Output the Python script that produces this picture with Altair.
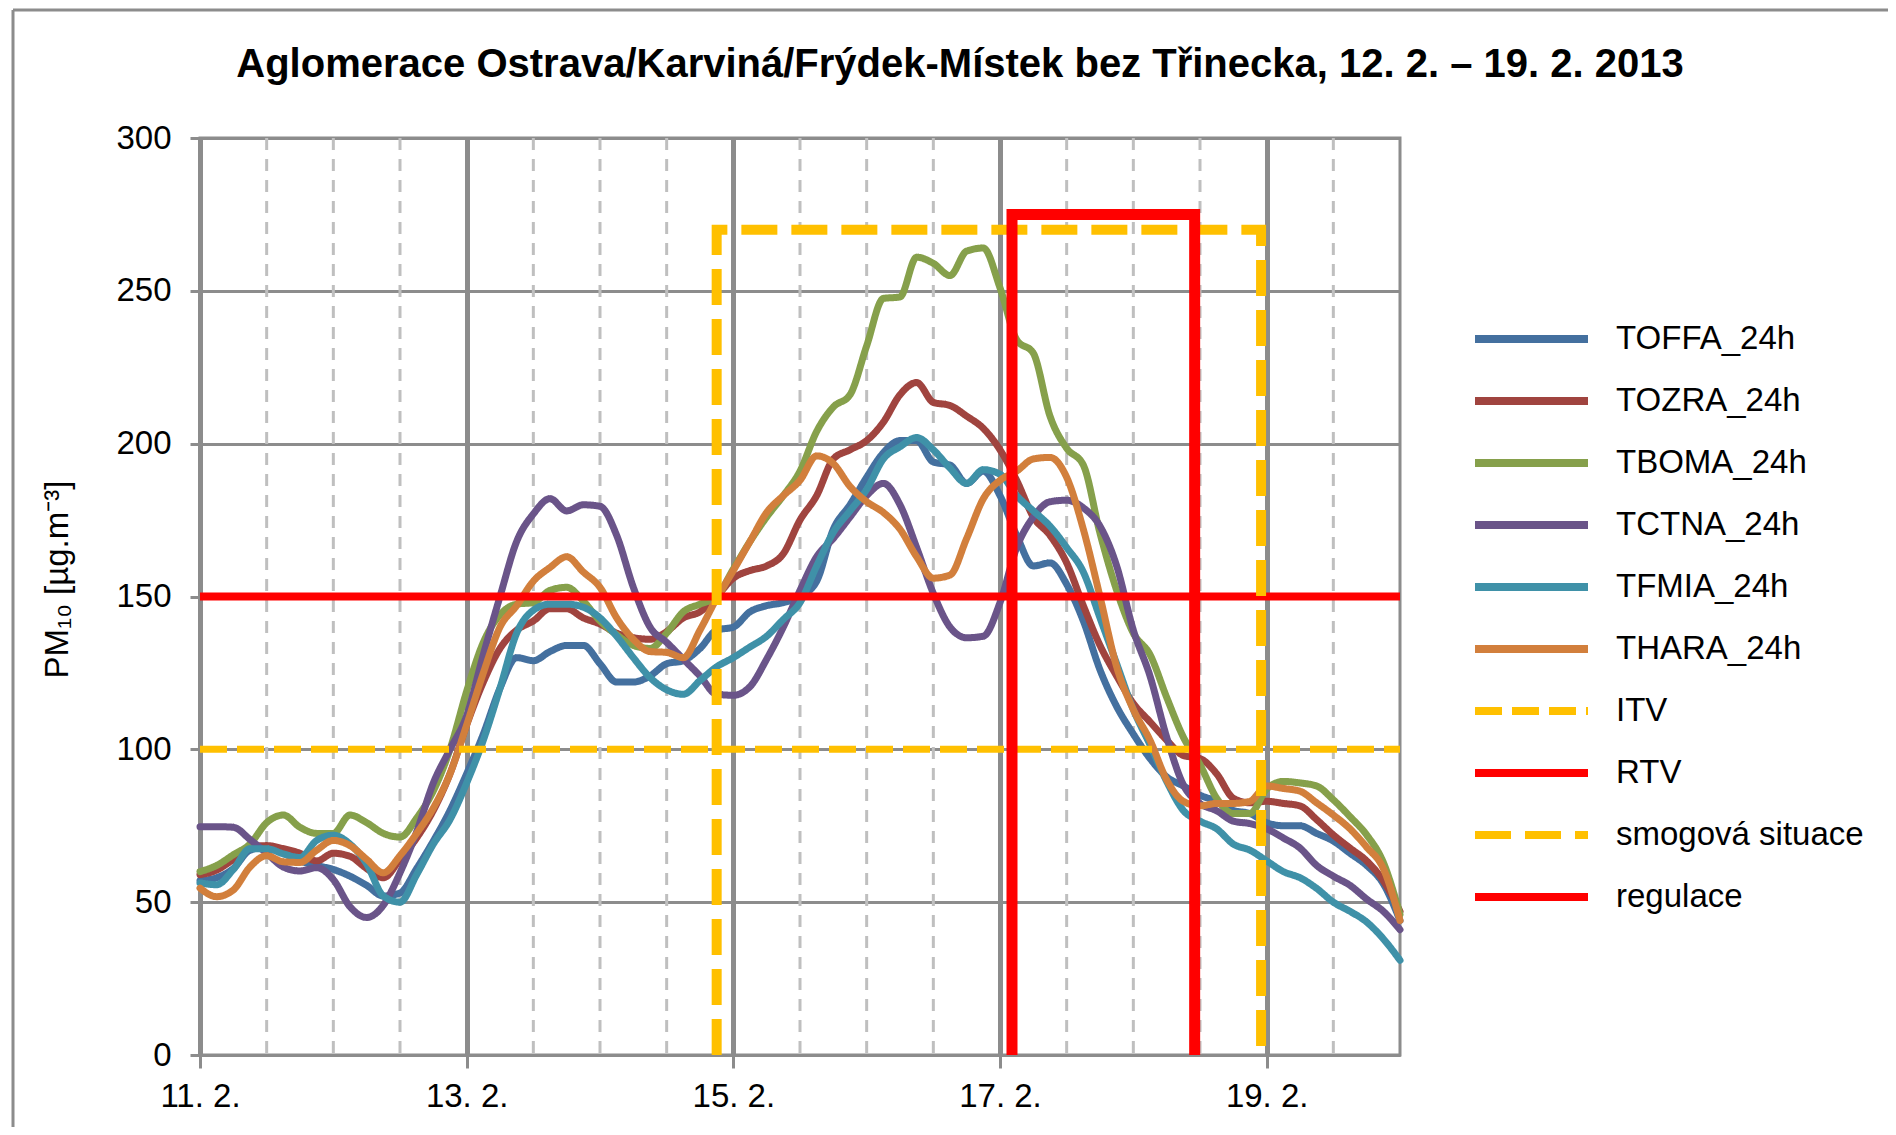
import altair as alt
import pandas as pd

# ---------------- data ----------------
HOURS = list(range(0, 217, 3))  # hours since 11. 2. 00:00

TOFFA = [57, 58, 61, 67, 68, 66, 63.5, 62, 60.7, 58.5, 55.5, 52, 53, 61, 70, 80,
         92, 105, 120, 130, 129, 132, 134, 134, 128, 122, 122, 124, 128, 129, 133, 139,
         140, 145, 147, 148, 150, 155, 172, 180, 189, 197, 201, 201, 194, 193, 187, 191,
         183, 170, 160, 161, 154, 142, 126, 114, 105, 97, 91, 88, 85, 83, 80, 79,
         76, 75, 75, 72.5, 70, 66, 62, 56, 44]
TOZRA = [59, 60.5, 64, 68, 68.5, 67.5, 66, 63.5, 66, 65, 61, 58, 64, 71, 80, 92,
         108, 122, 133, 139, 142, 146, 146, 143, 141, 138, 136.5, 136, 138.5, 143, 145, 150,
         156, 158.5, 160, 164, 175, 183, 195, 198, 201, 207, 216, 220, 213.5, 212.5, 209, 205,
         198, 188, 176, 170, 161, 147, 134, 124, 115, 109, 103, 98, 97, 92, 84, 82.5,
         83, 82.3, 81.5, 77, 72, 67.7, 63.5, 57, 47]
TBOMA = [60, 62, 65.5, 69, 76, 78.5, 74.5, 72.5, 72.5, 78.5, 76, 72.5, 71.3, 77.5, 86.4, 100,
         119, 135, 144, 147.5, 148, 152, 153, 148.5, 142, 137.5, 134, 133, 138, 145, 147.5, 150,
         159, 168, 176, 183, 191, 204, 212, 216, 232, 247.5, 248, 261, 259, 255, 263, 264,
         251, 234, 229.6, 209, 198.5, 193, 170.7, 152, 138, 131, 117, 104, 95, 84, 79,
         79, 87, 89.5, 89, 88, 83.5, 78, 72, 63, 46]
TCTNA = [74.7, 74.7, 74.5, 70.5, 66, 61.5, 60.2, 61.3, 57.4, 48.5, 45, 49, 59.6, 73, 89, 100,
         111, 131, 150, 168, 177, 182, 178, 180, 179.5, 170, 153, 140, 135, 129.5, 124, 118,
         117.7, 120.5, 129.5, 140, 152, 163, 169, 176, 183, 187, 180, 166, 151, 140, 136.5, 137,
         148, 166, 176, 181, 181.5, 179, 173, 160, 139, 124, 104, 88.4, 82.3, 79.9, 76.5,
         75.7, 74, 71, 67.7, 62, 58.5, 55.5, 51, 47, 41]
TFMIA = [56.3, 55.7, 60.7, 67.5, 67.5, 65.8, 64.6, 70.2, 71.9, 69, 62.5, 52, 50, 59, 69, 77,
         89, 103, 120, 138, 145.5, 147.5, 147.5, 146.5, 143, 137, 130, 123.5, 119.5, 118, 122.5, 127,
         130, 133.5, 137, 142.5, 148, 160, 171, 178, 185, 195, 199, 202, 198, 192, 187, 191.5,
         190, 183, 178, 173, 166, 158, 143, 128, 113, 101.5, 89.5, 80, 76.5, 74, 69,
         67, 63.5, 60, 58, 54.5, 50, 47, 43.5, 38, 31]
THARA = [54.6, 51.8, 54, 61.5, 65.2, 63.2, 63, 67, 70.2, 68.5, 64, 59.6, 65.2, 72.5, 80.8, 92,
         108, 125, 140, 147, 155, 159.5, 163, 158, 153, 143, 136, 132, 131.7, 130, 139, 149.4,
         158.5, 168, 177.5, 183, 188, 196, 193.5, 186, 181, 177.5, 172, 163, 156, 157, 169, 182,
         188, 191, 195, 195.5, 189, 172, 150, 127, 113, 103, 90, 83, 81.5, 82.3, 82.3,
         83, 88, 87.2, 86.3, 82.5, 78.5, 74, 68, 61, 44]

STATIONS = ["TOFFA_24h", "TOZRA_24h", "TBOMA_24h", "TCTNA_24h", "TFMIA_24h", "THARA_24h"]
STATION_VALUES = [TOFFA, TOZRA, TBOMA, TCTNA, TFMIA, THARA]
LIMITS = ["ITV", "RTV", "smogová situace", "regulace"]
SERIES = STATIONS + LIMITS

ITV_VALUE = 100
RTV_VALUE = 150
SMOG_X = [3.875, 3.875, 7.958, 7.958]   # days since 11. 2.
SMOG_Y = [0, 270, 270, 0]
REG_X = [6.09, 6.09, 7.46, 7.46]
REG_Y = [0, 275, 275, 0]

X_MAX = 9
X_TICKS = [0, 2, 4, 6, 8]
X_TICK_LABELS = ["11. 2.", "13. 2.", "15. 2.", "17. 2.", "19. 2."]
MINOR_X = [0.5, 1, 1.5, 2.5, 3, 3.5, 4.5, 5, 5.5, 6.5, 7, 7.5, 8.5]
Y_TICKS = [0, 50, 100, 150, 200, 250, 300]

TITLE = "Aglomerace Ostrava/Karviná/Frýdek-Místek bez Třinecka, 12. 2. – 19. 2. 2013"
Y_TITLE = "PM₁₀  [µg.m⁻³]"

COLORS = ["#44709F", "#A0443F", "#86A04B", "#6A5489", "#3F91A8", "#D27F3C",
          "#FFC000", "#FF0000", "#FFC000", "#FF0000"]
DASHES = [[1, 0]] * 6 + [[27, 10], [1, 0], [36, 14], [1, 0]]

# ---------------- tables ----------------
rows = []
for name, vals in zip(STATIONS, STATION_VALUES):
    for h, v in zip(HOURS, vals):
        rows.append({"series": name, "day": h / 24, "value": v, "ord": h})
df_st = pd.DataFrame(rows)

df_itv = pd.DataFrame({"series": "ITV", "day": [0, X_MAX], "value": [ITV_VALUE] * 2, "ord": [0, 1]})
df_rtv = pd.DataFrame({"series": "RTV", "day": [0, X_MAX], "value": [RTV_VALUE] * 2, "ord": [0, 1]})
df_smog = pd.DataFrame({"series": "smogová situace", "day": SMOG_X, "value": SMOG_Y, "ord": [0, 1, 2, 3]})
df_reg = pd.DataFrame({"series": "regulace", "day": REG_X, "value": REG_Y, "ord": [0, 1, 2, 3]})
df_minor = pd.DataFrame({"day": MINOR_X})

FONT = "Liberation Sans"
GRID = "#8c8c8c"

label_expr = "[" + ",".join("'" + s + "'" for s in X_TICK_LABELS) + "][indexof([" + \
    ",".join(str(t) for t in X_TICKS) + "], datum.value)]"

x_enc = alt.X("day:Q", scale=alt.Scale(domain=[0, X_MAX], nice=False, zero=False),
              axis=alt.Axis(values=X_TICKS, labelExpr=label_expr, grid=True, gridWidth=5,
                            tickSize=13, labelPadding=12, labelFlush=False, labelOverlap=False,
                            title=None))
y_enc = alt.Y("value:Q", scale=alt.Scale(domain=[0, 300], nice=False),
              axis=alt.Axis(values=Y_TICKS, grid=True, gridWidth=3, tickSize=10, labelPadding=19,
                            title=Y_TITLE, titleFont=FONT, titleFontSize=33, titleFontWeight="normal",
                            titleColor="black", titleAngle=270, titleX=-133, titleY=441,
                            titleAlign="center", titleBaseline="alphabetic"))
color_enc = alt.Color("series:N", scale=alt.Scale(domain=SERIES, range=COLORS), title=None)
dash_enc = alt.StrokeDash("series:N", scale=alt.Scale(domain=SERIES, range=DASHES), title=None)
order_enc = alt.Order("ord:Q")

minor = alt.Chart(df_minor).mark_rule(color="#bfbfbf", strokeWidth=3, strokeDash=[12, 9]).encode(x=x_enc)

stations = alt.Chart(df_st).mark_line(strokeWidth=7, strokeJoin="round", strokeCap="round",
                                      interpolate="monotone").encode(
    x=x_enc, y=y_enc, color=color_enc, strokeDash=dash_enc, order=order_enc)

itv = alt.Chart(df_itv).mark_line(strokeWidth=7).encode(
    x=x_enc, y=y_enc, color=color_enc, strokeDash=dash_enc, order=order_enc)
rtv = alt.Chart(df_rtv).mark_line(strokeWidth=8).encode(
    x=x_enc, y=y_enc, color=color_enc, strokeDash=dash_enc, order=order_enc)
smog = alt.Chart(df_smog).mark_line(strokeWidth=10, strokeJoin="miter").encode(
    x=x_enc, y=y_enc, color=color_enc, strokeDash=dash_enc, order=order_enc)
reg = alt.Chart(df_reg).mark_line(strokeWidth=11, strokeJoin="miter").encode(
    x=x_enc, y=y_enc, color=color_enc, strokeDash=dash_enc, order=order_enc)

# outer frame of the figure (decoration)
frame_data = alt.Data(values=[{"k": 1}])
frame_top = alt.Chart(frame_data).mark_rule(color=GRID, strokeWidth=3).encode(
    x=alt.value(-187), x2=alt.value(1688), y=alt.value(-128))
frame_left = alt.Chart(frame_data).mark_rule(color=GRID, strokeWidth=3).encode(
    x=alt.value(-187), y=alt.value(-128), y2=alt.value(989))

chart = alt.layer(minor, stations, itv, rtv, smog, reg, frame_top, frame_left).properties(
    width=1200, height=917,
    title=alt.TitleParams(text=TITLE, dx=160, dy=129.5, offset=53, anchor="middle"),
    autosize=alt.AutoSizeParams(type="none"),
    padding={"left": 192, "top": 130, "right": 488, "bottom": 72},
).configure_view(
    stroke=GRID, strokeWidth=3
).configure_axis(
    labelFont=FONT, labelFontSize=33, labelColor="black",
    domainColor=GRID, domainWidth=3, tickColor=GRID, tickWidth=3, gridColor=GRID
).configure_title(
    font=FONT, fontSize=40, fontWeight="bold", color="black"
).configure_legend(
    orient="none", legendX=1271, legendY=181, symbolType="stroke", symbolSize=12769,
    symbolStrokeWidth=8, clipHeight=40, rowPadding=22, labelFont=FONT, labelFontSize=33,
    labelColor="black", labelOffset=24, padding=0, labelLimit=500
)

chart.save("out.html", embed_options={"renderer": "svg", "actions": False})
